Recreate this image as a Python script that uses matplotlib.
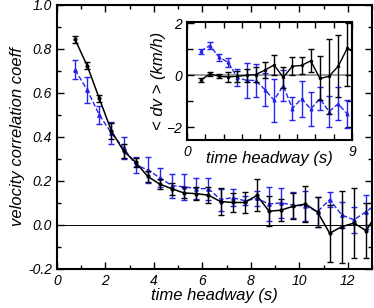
import matplotlib
matplotlib.use("Agg")
import matplotlib.pyplot as plt
from matplotlib.ticker import MultipleLocator, FixedLocator

plt.rcParams["font.family"] = ["Liberation Sans", "DejaVu Sans"]
plt.rcParams["font.style"] = "italic"

# main panel: velocity correlation vs time headway
headway = [0.75, 1.25, 1.75, 2.25, 2.75, 3.25, 3.75, 4.25, 4.75, 5.25, 5.75, 6.25, 6.75,
           7.25, 7.75, 8.25, 8.75, 9.25, 9.75, 10.25, 10.75, 11.25, 11.75, 12.25, 12.75, 13.25]
corr_black = [0.843, 0.724, 0.575, 0.427, 0.336, 0.285, 0.220, 0.185, 0.164, 0.145, 0.142, 0.135, 0.106,
              0.102, 0.102, 0.134, 0.062, 0.067, 0.085, 0.095, 0.058, -0.038, -0.008, 0.008, -0.026, 0.06]
err_black = [0.018, 0.015, 0.017, 0.035, 0.030, 0.020, 0.026, 0.022, 0.027, 0.025, 0.030, 0.035, 0.060,
             0.042, 0.049, 0.073, 0.068, 0.050, 0.060, 0.083, 0.068, 0.130, 0.163, 0.160, 0.125, 0.130]
corr_blue = [0.705, 0.614, 0.500, 0.417, 0.350, 0.273, 0.250, 0.214, 0.178, 0.173, 0.165, 0.165, 0.115,
             0.124, 0.110, 0.120, 0.095, 0.100, 0.090, 0.086, 0.060, 0.115, 0.045, 0.023, 0.060, 0.100]
err_blue = [0.044, 0.058, 0.040, 0.050, 0.050, 0.037, 0.058, 0.044, 0.054, 0.058, 0.048, 0.050, 0.050,
            0.038, 0.020, 0.035, 0.076, 0.068, 0.060, 0.068, 0.068, 0.035, 0.060, 0.060, 0.077, 0.080]

# inset: mean speed difference vs time headway
inset_headway = [0.75, 1.25, 1.75, 2.25, 2.75, 3.25, 3.75, 4.25, 4.75, 5.25, 5.75, 6.25, 6.75,
                 7.25, 7.75, 8.25, 8.75, 9.25]
dv_black = [-0.19, 0.06, -0.04, -0.06, -0.04, 0.0, 0.03, 0.2, 0.4, -0.08, 0.35, 0.38, 0.56,
            -0.12, -0.04, 0.35, 1.05, 0.8]
dverr_black = [0.07, 0.08, 0.08, 0.2, 0.22, 0.25, 0.3, 0.3, 0.37, 0.4, 0.35, 0.32, 0.45,
               0.85, 1.45, 1.2, 1.45, 1.5]
dv_blue = [0.93, 1.15, 0.7, 0.5, -0.1, -0.19, -0.2, -0.55, -0.96, -0.4, -1.28, -0.9, -1.3,
           -0.9, -1.4, -1.1, -1.5, -1.4]
dverr_blue = [0.1, 0.13, 0.14, 0.18, 0.33, 0.67, 0.64, 0.65, 0.83, 0.6, 0.45, 0.7, 0.67,
              0.45, 0.6, 0.64, 0.55, 0.5]

BLUE = "#2424f0"

fig = plt.figure(figsize=(3.74, 3.08), dpi=100)
ax = fig.add_axes([0.152, 0.127, 0.843, 0.857])

ax.axhline(0, color="black", lw=0.7, zorder=1)
ax.errorbar(headway, corr_blue, yerr=err_blue, color=BLUE, ls="--", lw=1.0, marker="^", ms=2.5,
            capsize=2.5, elinewidth=1.0, capthick=1.0, zorder=2)
ax.errorbar(headway, corr_black, yerr=err_black, color="black", ls="-", lw=1.1, marker="o", ms=2,
            capsize=2.5, elinewidth=1.0, capthick=1.0, zorder=3)

ax.set_xlim(0, 13)
ax.set_ylim(-0.2, 1.0)
ax.xaxis.set_major_locator(MultipleLocator(2))
ax.xaxis.set_minor_locator(MultipleLocator(1))
ax.yaxis.set_major_locator(MultipleLocator(0.2))
ax.yaxis.set_minor_locator(MultipleLocator(0.1))
ax.yaxis.set_major_formatter(plt.FuncFormatter(lambda v, p: f"{v:.1f}"))
ax.tick_params(which="both", direction="in", top=True, right=True, labelsize=10, width=1)
ax.tick_params(which="major", length=5)
ax.tick_params(which="minor", length=3)
for s in ax.spines.values():
    s.set_linewidth(1.5)
ax.set_xlabel("time headway (s)", fontsize=12, labelpad=0)
ax.set_ylabel("velocity correlation coeff", fontsize=12, labelpad=2)

# inset
ins = fig.add_axes([0.5, 0.545, 0.441, 0.383])
ins.axhline(0, color="#888888", lw=1.2, zorder=1)
ins.errorbar(inset_headway, dv_blue, yerr=dverr_blue, color=BLUE, ls="--", lw=1.0, marker="^", ms=2,
             capsize=2.5, elinewidth=1.0, capthick=1.0, zorder=2)
ins.errorbar(inset_headway, dv_black, yerr=dverr_black, color="black", ls="-", lw=1.0, marker="o", ms=1.5,
             capsize=2.5, elinewidth=1.0, capthick=1.0, zorder=3)
ins.set_xlim(0, 9)
ins.set_ylim(-2.5, 2.05)
ins.xaxis.set_major_locator(FixedLocator([0, 9]))
ins.xaxis.set_minor_locator(MultipleLocator(1))
ins.yaxis.set_major_locator(MultipleLocator(2))
ins.yaxis.set_minor_locator(MultipleLocator(1))
ins.tick_params(which="both", direction="in", top=True, right=True, labelsize=10, width=1)
ins.tick_params(which="major", length=5)
ins.tick_params(which="minor", length=4)
for s in ins.spines.values():
    s.set_linewidth(1.5)
ins.set_xlabel("time headway (s)", fontsize=12, labelpad=-5.5)
ins.set_ylabel("< dv > (km/h)", fontsize=12, labelpad=0)

fig.savefig("out.png", dpi=100)
